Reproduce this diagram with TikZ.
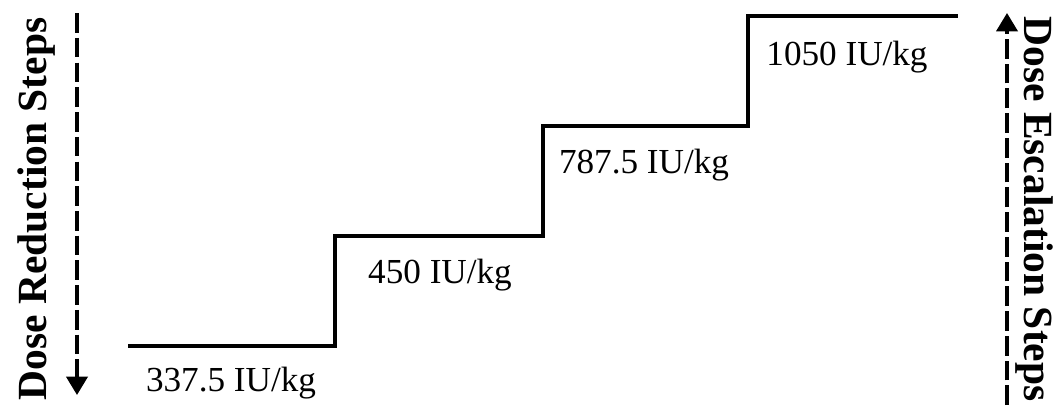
\documentclass[tikz,border=0pt]{standalone}
\usepackage{fontspec}
\setmainfont{Liberation Serif}
\usetikzlibrary{arrows.meta, positioning}

\begin{document}
\begin{tikzpicture}[x=0.025cm, y=-0.025cm,
    dose/.style={font=\fontsize{25}{30}\selectfont, anchor=base},
    side/.style={font=\fontsize{29.5}{36}\selectfont\bfseries, anchor=base},
    dir/.style={line width=2.4pt, dash pattern=on 14pt off 3.6pt, -{Triangle[length=13pt, width=15pt]}}]
    \useasboundingbox (0,0) rectangle (1057,409);
    % step corners
    \coordinate (s0) at (128,346);
    \coordinate (s1) at (335,346);
    \coordinate (s2) at (335,236);
    \coordinate (s3) at (543,236);
    \coordinate (s4) at (543,126);
    \coordinate (s5) at (748,126);
    \coordinate (s6) at (748,16);
    \coordinate (s7) at (958,16);
    \draw[line width=2.8pt] (s0) -- (s1) -- (s2) -- (s3) -- (s4) -- (s5) -- (s6) -- (s7);
    % dose labels
    \node[dose] (d1) at (231,391) {337.5 IU/kg};
    \node[dose] (d2) at (440,283) {450 IU/kg};
    \node[dose] (d3) at (644,173) {787.5 IU/kg};
    \node[dose] (d4) at (847,65)  {1050 IU/kg};
    % side arrows
    \node[side, rotate=90]  (red) at (46,209)   {Dose Reduction Steps};
    \node[side, rotate=-90] (esc) at (1024,209) {Dose Escalation Steps};
    \coordinate (rtop) at (77,13);
    \coordinate (rbot) at (77,395);
    \coordinate (etop) at (1007,13);
    \coordinate (ebot) at (1007,405);
    \draw[dir] (rtop) -- (rbot);
    \draw[dir] (ebot) -- (etop);
\end{tikzpicture}
\end{document}
